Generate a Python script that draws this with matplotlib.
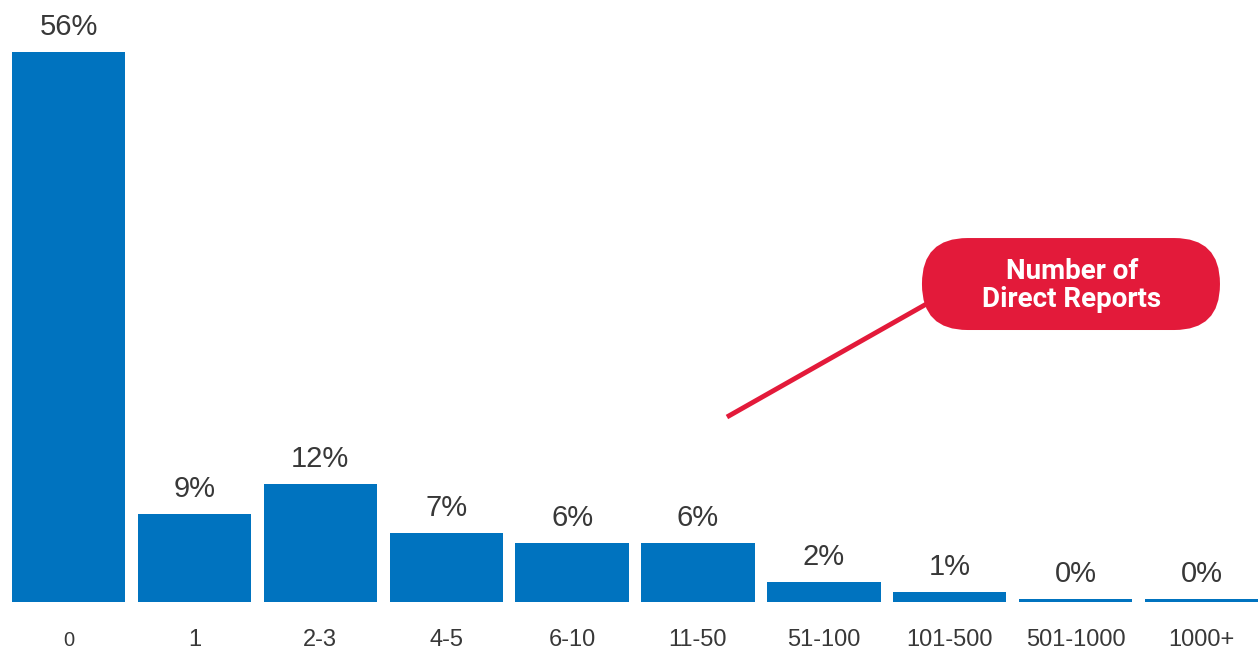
import matplotlib
matplotlib.use("Agg")
import numpy as np
from matplotlib import pyplot as plt
from matplotlib.patches import FancyBboxPatch

categorias = ["0", "1", "2-3", "4-5", "6-10", "11-50", "51-100", "101-500", "501-1000", "1000+"]
percentuais = [56, 9, 12, 7, 6, 6, 2, 1, 0.3, 0.3]

azul = "#0073BF"
vermelho = "#E31A3A"
cinza = "#383838"
fonte = ["Liberation Sans", "DejaVu Sans"]

fig = plt.figure(figsize=(12.59, 6.66), dpi=100)
ax = fig.add_axes([0, 64 / 666, 1, 602 / 666])

xs = np.arange(len(categorias))
ax.bar(xs, percentuais, width=0.9, color=azul)
ax.set_xlim(-0.544, 9.456)
ax.set_ylim(0, 61.3)

for x, v in zip(xs, percentuais):
    ax.annotate("%d%%" % round(v), (x, v), xytext=(0, 8), textcoords="offset points",
                ha="center", va="bottom", fontsize=21, color=cinza, family=fonte)

ax.set_xticks(xs)
ax.set_xticklabels(categorias, fontsize=17, color=cinza, family=fonte, va="baseline")
# o "0" aparece menor, como algarismo de estilo antigo
ax.get_xticklabels()[0].set_fontsize(14.5)
ax.tick_params(axis="x", length=0, pad=32)
ax.set_yticks([])
for s in ax.spines.values():
    s.set_visible(False)

# linha do balao
ax.plot([0.5774, 0.7625], [0.3073, 0.5266], transform=ax.transAxes,
        color=vermelho, lw=3.5, solid_capstyle="butt", clip_on=False, zorder=3)

# balao arredondado
balao = FancyBboxPatch((0.7323, 0.4518), 0.2367, 0.1528,
                       boxstyle="round,pad=0,rounding_size=0.0362",
                       mutation_aspect=1259 / 602, transform=ax.transAxes,
                       facecolor=vermelho, edgecolor="none", clip_on=False, zorder=4)
ax.add_patch(balao)
ax.text(0.8515, 0.525, "Number of\nDirect Reports", transform=ax.transAxes,
        ha="center", va="center", color="white", fontsize=20, fontweight="bold",
        family=["Roboto", "DejaVu Sans"], linespacing=1.05, zorder=5)

fig.savefig("out.png", dpi=100)
